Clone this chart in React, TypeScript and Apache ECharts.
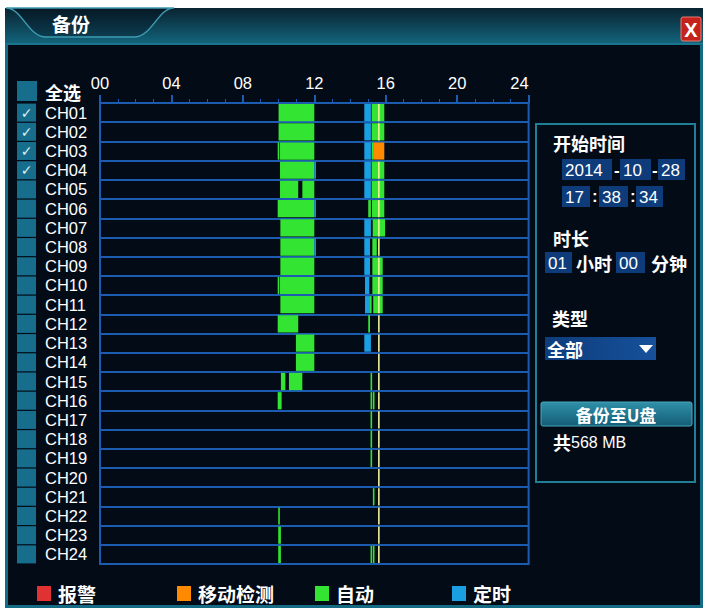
import React, { useEffect, useRef } from "react";
import * as echarts from "echarts";

// ---------- data ----------
const channels = [
  "CH01", "CH02", "CH03", "CH04", "CH05", "CH06", "CH07", "CH08",
  "CH09", "CH10", "CH11", "CH12", "CH13", "CH14", "CH15", "CH16",
  "CH17", "CH18", "CH19", "CH20", "CH21", "CH22", "CH23", "CH24",
];
const checkedChannels = ["CH01", "CH02", "CH03", "CH04"];
const hourLabels = ["00", "04", "08", "12", "16", "20", "24"];
const legendNames = ["报警", "移动检测", "自动", "定时"];

// [channelIndex, startHour, endHour]
const alarmSegments: number[][] = [];
const motionSegments = [[2, 15.34, 15.92]];
const autoSegments = [
  [0, 10.0, 12.0], [0, 15.21, 15.92],
  [1, 10.0, 12.0], [1, 15.21, 15.92],
  [2, 9.95, 10.0], [2, 10.08, 12.0], [2, 15.21, 15.34],
  [3, 10.08, 12.0], [3, 15.21, 15.92],
  [4, 10.08, 11.1], [4, 11.33, 12.0], [4, 15.21, 15.92],
  [5, 9.95, 12.0], [5, 15.02, 15.17], [5, 15.23, 15.92],
  [6, 10.1, 12.0], [6, 15.27, 15.96],
  [7, 10.1, 12.0], [7, 15.25, 15.5],
  [8, 10.1, 12.0], [8, 15.25, 15.83],
  [9, 9.95, 10.0], [9, 10.08, 12.0], [9, 15.25, 15.83],
  [10, 10.1, 12.0], [10, 15.12, 15.2], [10, 15.3, 15.83],
  [11, 9.95, 11.1], [11, 15.02, 15.12],
  [12, 10.97, 12.0],
  [13, 10.97, 12.0],
  [14, 10.13, 10.38], [14, 10.58, 11.33], [14, 15.15, 15.2],
  [15, 9.95, 10.17], [15, 15.15, 15.2], [15, 15.28, 15.33],
  [16, 15.15, 15.2],
  [17, 15.15, 15.2],
  [18, 15.15, 15.2],
  [20, 15.28, 15.33],
  [21, 9.98, 10.06],
  [22, 9.98, 10.13],
  [23, 9.98, 10.13], [23, 15.15, 15.2], [23, 15.28, 15.33],
];
const timerSegments = [
  [0, 14.8, 15.17], [1, 14.8, 15.17], [2, 14.8, 15.17], [3, 14.8, 15.17],
  [3, 12.0, 12.05], [4, 14.8, 15.17], [5, 12.0, 12.05], [6, 14.8, 15.17],
  [7, 14.8, 15.12], [7, 12.0, 12.05], [8, 14.8, 15.12], [9, 14.84, 15.08],
  [10, 14.84, 15.12], [12, 14.8, 15.17],
];
const markerSegments = [
  [0, 15.57, 15.65], [1, 15.57, 15.65], [3, 15.57, 15.65], [4, 15.57, 15.65],
  [5, 15.57, 15.65], [6, 15.57, 15.65], [7, 15.57, 15.65], [8, 15.57, 15.65],
  [9, 15.57, 15.65], [10, 15.57, 15.65], [11, 15.57, 15.65], [12, 15.57, 15.65],
  [13, 15.57, 15.65], [14, 15.57, 15.65], [15, 15.57, 15.65], [16, 15.57, 15.65],
  [17, 15.57, 15.65], [18, 15.57, 15.65], [19, 15.57, 15.65], [20, 15.57, 15.65],
  [21, 15.57, 15.65], [22, 15.57, 15.65], [23, 15.57, 15.65],
];

// ---------- style ----------
const CJK = "Noto Sans CJK SC";
const LATIN = "Liberation Sans";
const LINE = "#1c5cb0";
const TEAL = "#176e8c";
const FIELD = "#0e3c7a";
const legendLeft = [37, 177, 315, 452];

const tabPath = "M6 8 C22 8 28 37 46 37 L134 37 C152 37 158 8 174 8 Z";
echarts.graphic.registerShape("tabShape", echarts.graphic.extendPath(tabPath, {}));

function txt(text: string, x: number, y: number, opts: any = {}) {
  return {
    type: "text",
    z: 10,
    style: {
      text, x, y,
      fill: "#fff",
      fontSize: 18,
      fontFamily: CJK,
      fontWeight: "bold",
      verticalAlign: "middle",
      textVerticalAlign: "middle",
      align: "left",
      textAlign: "left",
      ...opts,
    },
  };
}
function field(text: string, x: number, y: number, w: number, h = 21) {
  return [
    { type: "rect", z: 5, shape: { x, y, width: w, height: h }, style: { fill: FIELD } },
    txt(text, x + 3, y + h / 2 + 1, { fontFamily: LATIN, fontWeight: "normal", fontSize: 17 }),
  ];
}

function makeSeries(name: string, data: number[][], color: string) {
  return {
    type: "custom",
    name,
    data,
    encode: { x: [1, 2], y: 0 },
    itemStyle: { color },
    renderItem: (params: any, api: any) => {
      const row = api.value(0);
      const s = api.coord([api.value(1), row]);
      const e = api.coord([api.value(2), row]);
      const band = api.size([0, 1])[1];
      return {
        type: "rect",
        shape: { x: s[0], y: s[1] - band / 2 + 1, width: Math.max(e[0] - s[0], 1.6), height: band - 2 },
        style: { fill: color },
      };
    },
  };
}

export default function App() {
  const ref = useRef<HTMLDivElement>(null);
  useEffect(() => {
    const chart = echarts.init(ref.current!, null, { renderer: "svg" });
    const graphics: any[] = [
      // window
      { type: "rect", z: -100, shape: { x: 5, y: 8, width: 698, height: 600 }, style: { fill: "#030b17" } },
      {
        type: "rect", z: -99, shape: { x: 5, y: 8, width: 698, height: 36 },
        style: { fill: new echarts.graphic.LinearGradient(0, 0, 0, 1, [
          { offset: 0, color: "#0a2330" }, { offset: 1, color: "#12657d" }]) },
      },
      {
        type: "tabShape", z: -98,
        style: {
          fill: new echarts.graphic.LinearGradient(0, 0, 0, 1, [
            { offset: 0, color: "#061824" }, { offset: 1, color: "#0c3d50" }]),
          stroke: "#3d9ab2", lineWidth: 1.5,
        },
      },
      { type: "rect", z: -97, shape: { x: 5, y: 43, width: 698, height: 2 }, style: { fill: "#1b7790" } },
      { type: "rect", z: -97, shape: { x: 5, y: 44, width: 3, height: 564 }, style: { fill: "#156a84" } },
      { type: "rect", z: -97, shape: { x: 700, y: 44, width: 3, height: 564 }, style: { fill: "#156a84" } },
      { type: "rect", z: -97, shape: { x: 5, y: 605, width: 698, height: 3 }, style: { fill: "#156a84" } },
      txt("备份", 52, 23, { fontSize: 19 }),
      // close button
      { type: "rect", z: 5, shape: { x: 681, y: 17, width: 20, height: 24, r: 2 }, style: { fill: "#c4221c", stroke: "#e87a70", lineWidth: 1 } },
      txt("X", 691, 30, { fontFamily: LATIN, fontSize: 20, align: "center", textAlign: "center" }),
      // select all
      { type: "rect", z: 5, shape: { x: 17, y: 81, width: 20, height: 20 }, style: { fill: TEAL } },
      txt("全选", 45, 92, { fontSize: 18 }),
      // right panel
      { type: "rect", z: 1, shape: { x: 536, y: 124, width: 159, height: 358 }, style: { fill: "none", stroke: "#1f7f96", lineWidth: 2 } },
      txt("开始时间", 553, 143),
      ...field("2014", 562, 159, 50),
      txt("-", 614, 170, { fontFamily: LATIN, fontSize: 17 }),
      ...field("10", 620, 159, 31),
      txt("-", 652, 170, { fontFamily: LATIN, fontSize: 17 }),
      ...field("28", 658, 159, 27),
      ...field("17", 562, 186, 28),
      txt(":", 592, 196, { fontFamily: LATIN, fontSize: 17 }),
      ...field("38", 599, 186, 29),
      txt(":", 630, 196, { fontFamily: LATIN, fontSize: 17 }),
      ...field("34", 636, 186, 27),
      txt("时长", 553, 238),
      ...field("01", 545, 252, 27),
      txt("小时", 576, 263),
      ...field("00", 616, 252, 29),
      txt("分钟", 651, 263),
      txt("类型", 552, 318),
      {
        type: "rect", z: 5, shape: { x: 545, y: 337, width: 111, height: 23 },
        style: { fill: new echarts.graphic.LinearGradient(0, 0, 1, 0, [
          { offset: 0, color: "#0e3c7c" }, { offset: 1, color: "#16519a" }]) },
      },
      txt("全部", 547, 349),
      { type: "polygon", z: 10, shape: { points: [[639, 345], [653, 345], [646, 353]] }, style: { fill: "#fff" } },
      {
        type: "rect", z: 5, shape: { x: 541, y: 402, width: 151, height: 24, r: 2 },
        style: {
          fill: new echarts.graphic.LinearGradient(0, 0, 0, 1, [
            { offset: 0, color: "#2f90a8" }, { offset: 1, color: "#145d76" }]),
          stroke: "#4aa8c0", lineWidth: 1,
        },
      },
      txt("备份至U盘", 616, 414, { fontSize: 17, align: "center", textAlign: "center" }),
      {
        type: "text", z: 10,
        style: {
          text: "{a|共}{b|568 MB}", x: 553, y: 442,
          verticalAlign: "middle", textVerticalAlign: "middle",
          rich: {
            a: { fill: "#fff", color: "#fff", fontSize: 18, fontFamily: CJK, fontWeight: "bold" },
            b: { fill: "#fff", color: "#fff", fontSize: 16, fontFamily: LATIN },
          },
        },
      },
    ];

    chart.setOption({
      animation: false,
      backgroundColor: "#ffffff",
      grid: {
        left: 100, right: 175.4, top: 103, bottom: 47,
        show: true, borderColor: LINE, borderWidth: 2, backgroundColor: "transparent",
      },
      xAxis: {
        type: "value", position: "top", min: 0, max: 24, interval: 4,
        axisLine: { show: true, lineStyle: { color: LINE, width: 2 } },
        axisTick: { show: true, length: 8, lineStyle: { color: LINE, width: 2 } },
        minorTick: { show: true, splitNumber: 4, length: 4, lineStyle: { color: LINE, width: 1 } },
        splitLine: { show: false },
        axisLabel: {
          color: "#fff", fontSize: 16.5, fontFamily: LATIN, margin: 12,
          alignMaxLabel: "right",
          formatter: (v: number) => hourLabels[Math.round(v / 4)],
        },
      },
      yAxis: {
        type: "category", data: channels, inverse: true,
        axisLine: { show: false }, axisTick: { show: false },
        splitLine: { show: true, interval: 0, lineStyle: { color: LINE, width: 2 } },
        axisLabel: {
          interval: 0, align: "left", margin: 83,
          formatter: (v: string) => (checkedChannels.includes(v) ? `{box|✓}{name|${v}}` : `{box| }{name|${v}}`),
          rich: {
            box: {
              width: 19, height: 18, lineHeight: 18, backgroundColor: TEAL, align: "center",
              color: "#d6eef6", fontSize: 14, fontFamily: "DejaVu Sans",
            },
            name: { color: "#fff", fontSize: 16.5, fontFamily: LATIN, padding: [0, 0, 0, 9] },
          },
        },
      },
      legend: legendNames.map((name, i) => ({
        data: [name], left: legendLeft[i], top: 584, itemWidth: 14, itemHeight: 15, itemGap: 0,
        icon: "rect", selectedMode: false, padding: 0,
        textStyle: { color: "#fff", fontSize: 19, fontFamily: CJK, fontWeight: "bold", padding: [0, 0, 0, 2] },
      })),
      graphic: { elements: graphics },
      series: [
        makeSeries("报警", alarmSegments, "#e03232"),
        makeSeries("移动检测", motionSegments, "#ff8a00"),
        makeSeries("自动", autoSegments, "#33e433"),
        makeSeries("定时", timerSegments, "#1aa0e2"),
        makeSeries("标记", markerSegments, "#f0f09a"),
      ],
    });
    return () => chart.dispose();
  }, []);
  return <div ref={ref} style={{ position: "absolute", left: 0, top: 0, width: 704, height: 611 }} />;
}
